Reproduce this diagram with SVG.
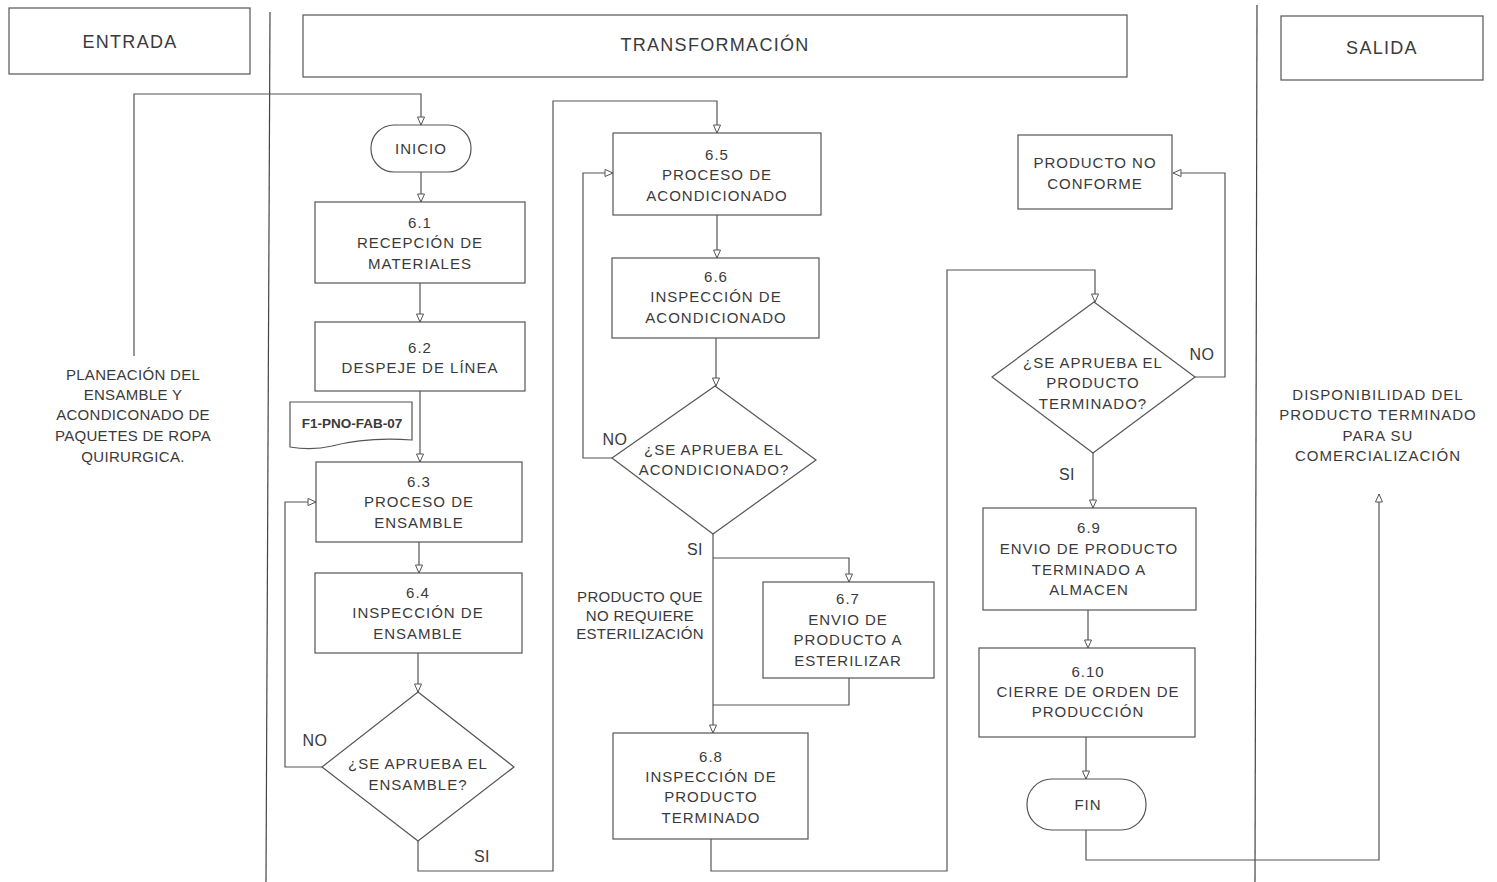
<svg xmlns="http://www.w3.org/2000/svg" width="1497" height="882" viewBox="0 0 1497 882">
<style>
.box{fill:#fff;stroke:#555;stroke-width:1.2}
.sep{stroke:#444;stroke-width:1.2;fill:none}
.ln{fill:none;stroke:#555;stroke-width:1.2}
text{font-family:"Liberation Sans",Arial,sans-serif;fill:#3a3a3a;text-anchor:middle}
.t{font-size:15px;letter-spacing:1px}
.tl{font-size:15px;letter-spacing:0.3px}
.h{font-size:18px;letter-spacing:1.3px}
.lbl{font-size:16px;letter-spacing:0.5px}
.doc{font-size:13.5px;font-weight:bold}
</style>
<defs>
<marker id="arr" markerWidth="10" markerHeight="10" refX="9" refY="4" orient="auto" markerUnits="userSpaceOnUse">
<path d="M1,0.5 L9,4 L1,7.5 Z" fill="#fff" stroke="#555" stroke-width="1"/>
</marker>
</defs>
<rect width="1497" height="882" fill="#fff"/>

<g id="lanes">
<line class="sep" x1="270" y1="12" x2="266" y2="882"/>
<line class="sep" x1="1257" y1="5" x2="1255" y2="882"/>
</g>

<g id="hdr-entrada"><rect class="box" x="9" y="8" width="241" height="66"/><text class="h" x="130" y="48">ENTRADA</text></g>
<g id="hdr-transformacion"><rect class="box" x="303" y="15" width="824" height="62"/><text class="h" x="715" y="51">TRANSFORMACIÓN</text></g>
<g id="hdr-salida"><rect class="box" x="1281" y="16" width="202" height="64"/><text class="h" x="1382" y="54">SALIDA</text></g>

<g id="connectors">
<path class="ln" d="M134,356 V94 H421 V125" marker-end="url(#arr)"/>
<path class="ln" d="M421,172 V202" marker-end="url(#arr)"/>
<path class="ln" d="M420,283 V322" marker-end="url(#arr)"/>
<path class="ln" d="M420,391 V462" marker-end="url(#arr)"/>
<path class="ln" d="M419,542 V573" marker-end="url(#arr)"/>
<path class="ln" d="M418,653 V692" marker-end="url(#arr)"/>
<path class="ln" d="M322,767 H285 V502 H316" marker-end="url(#arr)"/>
<path class="ln" d="M418,841 V871 H553 V101 H717 V133" marker-end="url(#arr)"/>
<path class="ln" d="M717,215 V258" marker-end="url(#arr)"/>
<path class="ln" d="M716,338 V386" marker-end="url(#arr)"/>
<path class="ln" d="M612,458 H583 V173 H613" marker-end="url(#arr)"/>
<path class="ln" d="M713,534 V733" marker-end="url(#arr)"/>
<path class="ln" d="M713,558 H849 V582" marker-end="url(#arr)"/>
<path class="ln" d="M849,678 V705 H713"/>
<path class="ln" d="M711,839 V871 H947 V270 H1095 V302" marker-end="url(#arr)"/>
<path class="ln" d="M1195,377 H1225 V173 H1173" marker-end="url(#arr)"/>
<path class="ln" d="M1093,453 V508" marker-end="url(#arr)"/>
<path class="ln" d="M1088,610 V648" marker-end="url(#arr)"/>
<path class="ln" d="M1086,737 V779" marker-end="url(#arr)"/>
<path class="ln" d="M1086,830 V860 H1379 V494" marker-end="url(#arr)"/>
</g>

<g id="entrada-text">
<text class="tl"><tspan x="133" y="380">PLANEACIÓN DEL</tspan><tspan x="133" y="400">ENSAMBLE Y</tspan><tspan x="133" y="420">ACONDICONADO DE</tspan><tspan x="133" y="441">PAQUETES DE ROPA</tspan><tspan x="133" y="462">QUIRURGICA.</tspan></text>
</g>

<g id="inicio"><rect class="box" x="371" y="125" width="100" height="47" rx="23" ry="23"/><text class="t" x="421" y="154">INICIO</text></g>

<g id="n61"><rect class="box" x="315" y="202" width="210" height="81"/>
<text class="t"><tspan x="420" y="228">6.1</tspan><tspan x="420" y="248">RECEPCIÓN DE</tspan><tspan x="420" y="269">MATERIALES</tspan></text></g>

<g id="n62"><rect class="box" x="315" y="322" width="210" height="69"/>
<text class="t"><tspan x="420" y="353">6.2</tspan><tspan x="420" y="373">DESPEJE DE LÍNEA</tspan></text></g>

<g id="doc"><path class="box" d="M290,402 H412 V440 C385,438 355,440 332,446 C315,450 302,449 290,447 Z"/>
<text class="doc" x="352" y="428">F1-PNO-FAB-07</text></g>

<g id="n63"><rect class="box" x="316" y="462" width="206" height="80"/>
<text class="t"><tspan x="419" y="487">6.3</tspan><tspan x="419" y="507">PROCESO DE</tspan><tspan x="419" y="528">ENSAMBLE</tspan></text></g>

<g id="n64"><rect class="box" x="315" y="573" width="207" height="80"/>
<text class="t"><tspan x="418" y="598">6.4</tspan><tspan x="418" y="618">INSPECCIÓN DE</tspan><tspan x="418" y="639">ENSAMBLE</tspan></text></g>

<g id="d1"><path class="box" d="M418,692 L514,767 L418,841 L322,767 Z"/>
<text class="t"><tspan x="418" y="769">¿SE APRUEBA EL</tspan><tspan x="418" y="790">ENSAMBLE?</tspan></text></g>

<g id="n65"><rect class="box" x="613" y="133" width="208" height="82"/>
<text class="t"><tspan x="717" y="160">6.5</tspan><tspan x="717" y="180">PROCESO DE</tspan><tspan x="717" y="201">ACONDICIONADO</tspan></text></g>

<g id="n66"><rect class="box" x="612" y="258" width="207" height="80"/>
<text class="t"><tspan x="716" y="282">6.6</tspan><tspan x="716" y="302">INSPECCIÓN DE</tspan><tspan x="716" y="323">ACONDICIONADO</tspan></text></g>

<g id="d2"><path class="box" d="M715,386 L816,460 L713,534 L612,458 Z"/>
<text class="t"><tspan x="714" y="455">¿SE APRUEBA EL</tspan><tspan x="714" y="475">ACONDICIONADO?</tspan></text></g>

<g id="note"><text class="tl"><tspan x="640" y="602">PRODUCTO QUE</tspan><tspan x="640" y="621">NO REQUIERE</tspan><tspan x="640" y="639">ESTERILIZACIÓN</tspan></text></g>

<g id="n67"><rect class="box" x="763" y="582" width="171" height="96"/>
<text class="t"><tspan x="848" y="604">6.7</tspan><tspan x="848" y="625">ENVIO DE</tspan><tspan x="848" y="645">PRODUCTO A</tspan><tspan x="848" y="666">ESTERILIZAR</tspan></text></g>

<g id="n68"><rect class="box" x="613" y="733" width="195" height="106"/>
<text class="t"><tspan x="711" y="762">6.8</tspan><tspan x="711" y="782">INSPECCIÓN DE</tspan><tspan x="711" y="802">PRODUCTO</tspan><tspan x="711" y="823">TERMINADO</tspan></text></g>

<g id="pnc"><rect class="box" x="1018" y="135" width="154" height="74"/>
<text class="t"><tspan x="1095" y="168">PRODUCTO NO</tspan><tspan x="1095" y="189">CONFORME</tspan></text></g>

<g id="d3"><path class="box" d="M1094,302 L1195,377 L1093,453 L992,377 Z"/>
<text class="t"><tspan x="1093" y="368">¿SE APRUEBA EL</tspan><tspan x="1093" y="388">PRODUCTO</tspan><tspan x="1093" y="409">TERMINADO?</tspan></text></g>

<g id="n69"><rect class="box" x="983" y="508" width="213" height="102"/>
<text class="t"><tspan x="1089" y="533">6.9</tspan><tspan x="1089" y="554">ENVIO DE PRODUCTO</tspan><tspan x="1089" y="575">TERMINADO A</tspan><tspan x="1089" y="595">ALMACEN</tspan></text></g>

<g id="n610"><rect class="box" x="979" y="648" width="216" height="89"/>
<text class="t"><tspan x="1088" y="677">6.10</tspan><tspan x="1088" y="697">CIERRE DE ORDEN DE</tspan><tspan x="1088" y="717">PRODUCCIÓN</tspan></text></g>

<g id="fin"><rect class="box" x="1027" y="779" width="119" height="51" rx="25" ry="25"/><text class="t" x="1088" y="810">FIN</text></g>

<g id="salida-text"><text class="t"><tspan x="1378" y="400">DISPONIBILIDAD DEL</tspan><tspan x="1378" y="420">PRODUCTO TERMINADO</tspan><tspan x="1378" y="441">PARA SU</tspan><tspan x="1378" y="461">COMERCIALIZACIÓN</tspan></text></g>

<g id="labels">
<text class="lbl" x="315" y="746">NO</text>
<text class="lbl" x="482" y="862">SI</text>
<text class="lbl" x="615" y="445">NO</text>
<text class="lbl" x="695" y="555">SI</text>
<text class="lbl" x="1202" y="360">NO</text>
<text class="lbl" x="1067" y="480">SI</text>
</g>
</svg>
